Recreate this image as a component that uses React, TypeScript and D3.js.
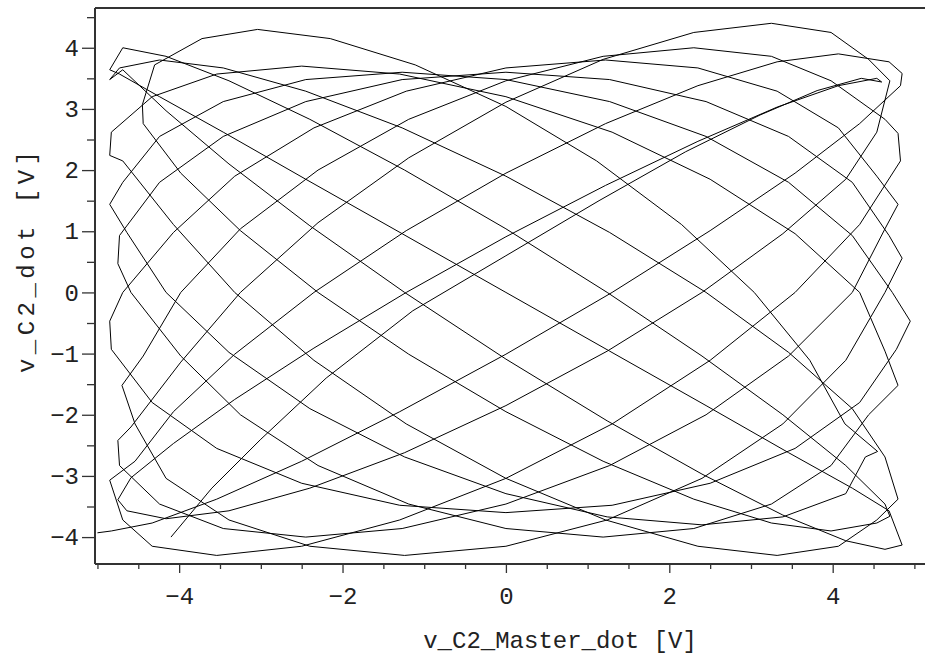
import React, { useEffect, useRef } from "react";
import * as d3 from "d3";

// axis ticks and labels
const xMajorTicks = [-4, -2, 0, 2, 4];
const xMinorTicks = [-5, -4.5, -3.5, -3, -2.5, -1.5, -1, -0.5, 0.5, 1, 1.5, 2.5, 3, 3.5, 4.5, 5];
const yMajorTicks = [-4, -3, -2, -1, 0, 1, 2, 3, 4];
const yMinorTicks = [-3.5, -2.5, -1.5, -0.5, 0.5, 1.5, 2.5, 3.5, 4.5];
const xLabel = "v_C2_Master_dot [V]";
const yLabel = "v_C2_dot [V]";

// phase trajectory (v_C2_Master_dot, v_C2_dot)
const trajectory: [number, number][] = [
  [-4.1, -4.0], [-3.6, -3.2], [-3.0, -2.4], [-2.2, -1.4], [-1.14, -0.3], [0, 0.6], [1.14, 1.5], [2.2, 2.3], [3.11, 2.9], [3.81, 3.3], [4.35, 3.5],
  [4.6, 3.44], [4.54, 3.5], [4.07, 3.38], [3.32, 3.03], [2.35, 2.47], [1.22, 1.75], [0, 0.91], [-1.22, 0], [-2.35, -0.91], [-3.32, -1.75], [-4.07, -2.47], [-4.59, -3.03],
  [-4.75, -3.39], [-4.64, -3.57], [-4.16, -3.7], [-3.39, -3.57], [-2.4, -3.2], [-1.24, -2.62], [0, -1.85], [1.24, -0.96], [2.4, 0], [3.39, 0.96], [4.16, 1.85], [4.54, 2.62],
  [4.7, 3.46], [4.44, 3.81], [3.98, 4.25], [3.25, 4.4], [2.3, 4.25], [1.19, 3.81], [0, 3.11], [-1.19, 2.2], [-2.3, 1.14], [-3.25, 0], [-3.98, -1.14], [-4.59, -2.2],
  [-4.75, -2.42], [-4.73, -2.83], [-4.24, -3.46], [-3.46, -3.86], [-2.45, -4.0], [-1.27, -3.86], [0, -3.46], [1.27, -2.83], [2.45, -2.0], [3.46, -1.04], [4.24, 0], [4.64, 1.04],
  [4.8, 1.44], [4.54, 1.9], [4.07, 2.69], [3.32, 3.29], [2.35, 3.67], [1.22, 3.8], [0, 3.67], [-1.22, 3.29], [-2.35, 2.69], [-3.32, 1.9], [-4.07, 0.98], [-4.69, 0],
  [-4.85, -0.47], [-4.83, -0.93], [-4.33, -1.8], [-3.54, -2.55], [-2.5, -3.12], [-1.3, -3.48], [0, -3.6], [1.3, -3.48], [2.5, -3.12], [3.54, -2.55], [4.33, -1.8], [4.78, -0.93],
  [4.95, -0.47], [4.73, 0], [4.24, 0.93], [3.46, 1.8], [2.45, 2.55], [1.27, 3.12], [0, 3.48], [-1.27, 3.6], [-2.45, 3.48], [-3.46, 3.12], [-4.24, 2.55], [-4.69, 1.8],
  [-4.85, 1.44], [-4.64, 0.98], [-4.16, 0], [-3.39, -0.98], [-2.4, -1.9], [-1.24, -2.69], [0, -3.29], [1.24, -3.67], [2.4, -3.8], [3.39, -3.67], [4.16, -3.29], [4.4, -2.69],
  [4.55, -2.6], [4.15, -2.15], [3.72, -1.11], [3.04, 0], [2.15, 1.11], [1.11, 2.15], [0, 3.04], [-1.11, 3.72], [-2.15, 4.15], [-3.04, 4.3], [-3.72, 4.15], [-4.3, 3.72],
  [-4.45, 3.07], [-4.44, 2.76], [-3.98, 1.95], [-3.25, 1.01], [-2.3, 0], [-1.19, -1.01], [0, -1.95], [1.19, -2.76], [2.3, -3.38], [3.25, -3.77], [3.98, -3.9], [4.54, -3.77],
  [4.7, -3.66], [4.64, -3.46], [4.16, -2.83], [3.39, -2.0], [2.4, -1.04], [1.24, 0], [0, 1.04], [-1.24, 2.0], [-2.4, 2.83], [-3.39, 3.46], [-4.16, 3.86], [-4.69, 4.0],
  [-4.85, 3.64], [-4.73, 3.57], [-4.24, 3.2], [-3.46, 2.62], [-2.45, 1.85], [-1.27, 0.96], [0, 0], [1.27, -0.96], [2.45, -1.85], [3.46, -2.62], [4.24, -3.2], [4.69, -3.57],
  [4.85, -4.13], [4.64, -4.2], [4.16, -4.06], [3.39, -3.64], [2.4, -2.97], [1.24, -2.1], [0, -1.09], [-1.24, 0], [-2.4, 1.09], [-3.39, 2.1], [-4.16, 2.97], [-4.69, 3.64],
  [-4.85, 3.48], [-4.73, 3.67], [-4.24, 3.8], [-3.46, 3.67], [-2.45, 3.29], [-1.27, 2.69], [0, 1.9], [1.27, 0.98], [2.45, 0], [3.46, -0.98], [4.24, -1.9], [4.64, -2.69],
  [4.8, -3.38], [4.54, -3.72], [4.07, -4.15], [3.32, -4.3], [2.35, -4.15], [1.22, -3.72], [0, -3.04], [-1.22, -2.15], [-2.35, -1.11], [-3.32, 0], [-4.07, 1.11], [-4.69, 2.15],
  [-4.85, 2.24], [-4.83, 2.62], [-4.33, 3.2], [-3.54, 3.57], [-2.5, 3.7], [-1.3, 3.57], [0, 3.2], [1.3, 2.62], [2.5, 1.85], [3.54, 0.96], [4.33, 0], [4.64, -0.96],
  [4.8, -1.52], [4.44, -2.0], [3.98, -2.83], [3.25, -3.46], [2.3, -3.86], [1.19, -4.0], [0, -3.86], [-1.19, -3.46], [-2.3, -2.83], [-3.25, -2.0], [-3.98, -1.04], [-4.59, 0],
  [-4.75, 0.47], [-4.73, 0.93], [-4.24, 1.8], [-3.46, 2.55], [-2.45, 3.12], [-1.27, 3.48], [0, 3.6], [1.27, 3.48], [2.45, 3.12], [3.46, 2.55], [4.24, 1.8], [4.69, 0.93],
  [4.85, 0.56], [4.64, 0], [4.16, -1.11], [3.39, -2.15], [2.4, -3.04], [1.24, -3.72], [0, -4.15], [-1.24, -4.3], [-2.4, -4.15], [-3.39, -3.72], [-4.16, -3.04], [-4.54, -2.15],
  [-4.7, -1.52], [-4.44, -1.04], [-3.98, 0], [-3.25, 1.04], [-2.3, 2.0], [-1.19, 2.83], [0, 3.46], [1.19, 3.86], [2.3, 4.0], [3.25, 3.86], [3.98, 3.46], [4.64, 2.83],
  [4.8, 2.6], [4.83, 2.15], [4.33, 1.11], [3.54, 0], [2.5, -1.11], [1.3, -2.15], [0, -3.04], [-1.3, -3.72], [-2.5, -4.15], [-3.54, -4.3], [-4.33, -4.15], [-4.69, -3.72],
  [-4.85, -3.07], [-4.54, -2.76], [-4.07, -1.95], [-3.32, -1.01], [-2.35, 0], [-1.22, 1.01], [0, 1.95], [1.22, 2.76], [2.35, 3.38], [3.32, 3.77], [4.07, 3.9], [4.69, 3.77],
  [4.85, 3.58], [4.83, 3.38], [4.33, 2.76], [3.54, 1.95], [2.5, 1.01], [1.3, 0], [0, -1.01], [-1.3, -1.95], [-2.5, -2.76], [-3.54, -3.38], [-4.33, -3.77], [-4.83, -3.9],
  [-5.0, -3.93],
];

const FONT = "'Liberation Mono', 'DejaVu Sans Mono', monospace";

const App = () => {
  const svgRef = useRef<SVGSVGElement>(null);

  useEffect(() => {
    const width = 925;
    const height = 659;
    const left = 95;
    const top = 8;
    const bottom = 564;

    const svg = d3.select(svgRef.current).attr("width", width).attr("height", height);
    svg.selectAll("*").remove();

    const x = d3.scaleLinear().domain([-5.03, 5.13]).range([left, width]);
    const y = d3.scaleLinear().domain([-4.44, 4.65]).range([bottom, top]);

    // the plotted curve is a straight-segment polyline
    const path = d3
      .line<[number, number]>()
      .x((d) => x(d[0]))
      .y((d) => y(d[1]));

    svg
      .append("path")
      .datum(trajectory)
      .attr("d", path)
      .attr("fill", "none")
      .attr("stroke", "#000")
      .attr("stroke-width", 1)
      .attr("stroke-linejoin", "round");

    // x axis
    const gx = svg.append("g").attr("transform", `translate(0,${bottom})`);
    gx.append("g").call(
      d3.axisBottom(x).tickValues(xMinorTicks).tickSize(5).tickSizeOuter(0).tickFormat(() => "")
    );
    gx.append("g").call(
      d3.axisBottom(x).tickValues(xMajorTicks).tickSize(9).tickSizeOuter(0).tickPadding(14)
    );
    gx.selectAll(".domain").remove();

    // y axis
    const gy = svg.append("g").attr("transform", `translate(${left},0)`);
    gy.append("g").call(
      d3.axisLeft(y).tickValues(yMinorTicks).tickSize(8).tickSizeOuter(0).tickFormat(() => "")
    );
    gy.append("g").call(
      d3.axisLeft(y).tickValues(yMajorTicks).tickSize(13).tickSizeOuter(0).tickPadding(3)
    );
    gy.selectAll(".domain").remove();

    svg.selectAll(".tick line").attr("stroke", "#333").attr("stroke-width", 1.3);
    svg
      .selectAll(".tick text")
      .attr("fill", "#222")
      .style("font-family", FONT)
      .style("font-size", "24px");

    // frame lines
    const frame = [
      [left, top, left, bottom],
      [left, bottom, width, bottom],
      [left, top, width, top],
    ];
    svg
      .selectAll("line.frame")
      .data(frame)
      .enter()
      .append("line")
      .attr("class", "frame")
      .attr("x1", (d) => d[0])
      .attr("y1", (d) => d[1])
      .attr("x2", (d) => d[2])
      .attr("y2", (d) => d[3])
      .attr("stroke", "#333")
      .attr("stroke-width", 2);

    // axis titles
    svg
      .append("text")
      .attr("x", 560)
      .attr("y", 648)
      .attr("text-anchor", "middle")
      .style("font-family", FONT)
      .style("font-size", "24px")
      .attr("fill", "#222")
      .text(xLabel);

    svg
      .append("text")
      .attr("transform", "translate(34,262) rotate(-90)")
      .attr("text-anchor", "middle")
      .attr("textLength", 222)
      .attr("lengthAdjust", "spacing")
      .style("font-family", FONT)
      .style("font-size", "24px")
      .attr("fill", "#222")
      .text(yLabel);
  }, []);

  return (
    <svg
      ref={svgRef}
      style={{ position: "absolute", left: 0, top: 0, background: "#fff" }}
    ></svg>
  );
};

export default App;
